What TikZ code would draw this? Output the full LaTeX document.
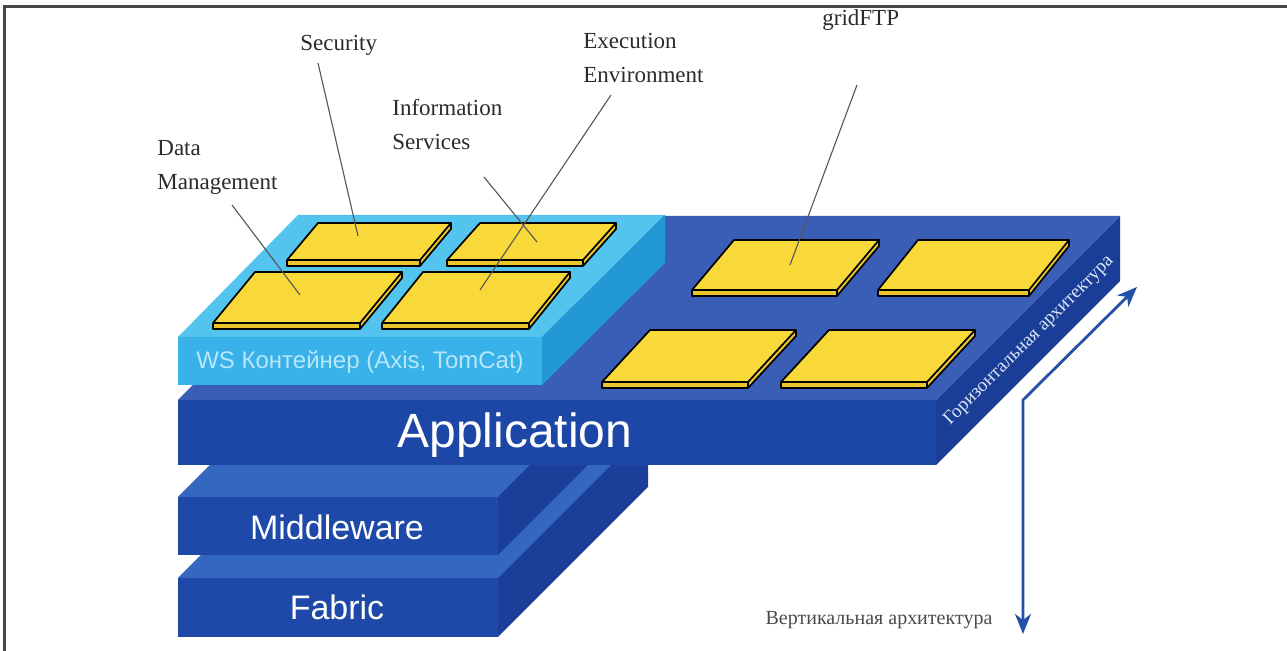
\documentclass[tikz,border=0pt]{standalone}
\usepackage{fontspec}
\setmainfont{Liberation Serif}
\newfontfamily\sansfont{Liberation Sans}
\usetikzlibrary{arrows.meta}

\definecolor{apptop}{HTML}{3A5DB6}
\definecolor{appfront}{HTML}{1D47A6}
\definecolor{appside}{HTML}{1A3E97}
\definecolor{lowtop}{HTML}{3467C0}
\definecolor{lowfront}{HTML}{1E49A8}
\definecolor{lowside}{HTML}{1B3F98}
\definecolor{wstop}{HTML}{52C4EE}
\definecolor{wsfront}{HTML}{38B2E8}
\definecolor{wsside}{HTML}{2299D6}
\definecolor{wstext}{HTML}{B8E6FA}
\definecolor{tiletop}{HTML}{F9D83A}
\definecolor{tileedge}{HTML}{EBC52C}
\definecolor{leader}{HTML}{555555}
\definecolor{labeltext}{HTML}{2B2B2B}
\definecolor{arrowblue}{HTML}{2350A8}
\definecolor{framegray}{HTML}{474747}
\definecolor{sidetext}{HTML}{DCE6F6}

% a flat yellow module: front-left corner, width, depth dx, depth dy
\newcommand\gtile[4]{%
  \fill[tileedge] (#1) -- ++(#2,0) -- ++(#3,-#4) -- ++(0,6) -- ++(-#3,#4) -- ++(-#2,0) -- cycle;
  \fill[tiletop] (#1) -- ++(#2,0) -- ++(#3,-#4) -- ++(-#2,0) -- cycle;
  \draw[tileline] (#1) -- ++(#2,0) -- ++(#3,-#4) -- ++(-#2,0) -- cycle;
  \draw[tileline] (#1) -- ++(0,6) -- ++(#2,0) -- ++(#3,-#4) -- ++(0,-6);
  \draw[tileline] (#1) ++(#2,0) -- ++(0,6);
}

\tikzset{
  tileline/.style={draw=black, line width=0.85pt, line join=round},
  leaderline/.style={draw=leader, line width=0.55pt},
  label/.style={text=labeltext, align=left, anchor=west, inner sep=0pt,
    font=\fontsize{11.5}{17}\selectfont},
  layername/.style={text=white, inner sep=0pt, font=\sansfont\fontsize{17}{20}\selectfont},
  archarrow/.style={draw=arrowblue, line width=1.4pt, line join=miter,
    {Stealth[length=10pt,width=8pt,inset=3pt]}-{Stealth[length=10pt,width=8pt,inset=3pt]}},
}

\begin{document}
\begin{tikzpicture}[x=0.5pt,y=-0.5pt]
\useasboundingbox (0,0) rectangle (1287,651);
\fill[white] (0,0) rectangle (1287,651);

% frame
\draw[framegray, line width=1.2pt] (4.5,651) -- (4.5,6.5) -- (1287,6.5);

% Fabric slab
\fill[lowtop]   (178,578) -- (498,578) -- (648,428) -- (328,428) -- cycle;
\fill[lowside]  (498,578) -- (648,428) -- (648,487) -- (498,637) -- cycle;
\fill[lowfront] (178,578) rectangle (498,637);

% Middleware slab
\fill[lowtop]   (178,497) -- (498,497) -- (648,347) -- (328,347) -- cycle;
\fill[lowside]  (498,497) -- (648,347) -- (648,405) -- (498,555) -- cycle;
\fill[lowfront] (178,497) rectangle (498,555);

% Application slab
\fill[apptop]   (178,400) -- (936,400) -- (1120,216) -- (362,216) -- cycle;
\fill[appside]  (936,400) -- (1120,216) -- (1120,281) -- (936,465) -- cycle;
\fill[appfront] (178,400) rectangle (936,465);

% WS container
\fill[wstop]   (178,337) -- (542,337) -- (665,215) -- (298,215) -- cycle;
\fill[wsside]  (542,337) -- (665,215) -- (665,263) -- (542,385) -- cycle;
\fill[wsfront] (178,337) rectangle (542,385);

% layer names
\node[layername, font=\sansfont\fontsize{24}{28}\selectfont] (app) at (515,435) {Application};
\node[layername] (mid) at (337,527) {Middleware};
\node[layername] (fab) at (337,607) {Fabric};
\node[text=wstext, inner sep=0pt, font=\sansfont\fontsize{12}{14}\selectfont] (ws) at (360,362) {WS Контейнер (Axis, TomCat)};

% modules in the container
\gtile{287,260}{133}{31}{37}
\gtile{447,260}{136}{33}{37}
\gtile{213,323}{147}{42}{51}
\gtile{382,323}{147}{41}{51}
% modules on the application layer
\gtile{692,290}{145}{42}{50}
\gtile{878,290}{151}{40}{50}
\gtile{602,382}{146}{48}{52}
\gtile{781,382}{146}{48}{52}

% side label
\node[text=sidetext, inner sep=0pt, rotate=45, font=\fontsize{9.5}{11}\selectfont] (horiz) at (1029,341) {Горизонтальная архитектура};

% architecture arrows
\coordinate (htip) at (1137,287);
\coordinate (bend) at (1023,400);
\coordinate (vtip) at (1023,634);
\draw[archarrow] (htip) -- (bend) -- (vtip);
\node[text=labeltext!85, inner sep=0pt, font=\fontsize{10}{12}\selectfont] (vert) at (879,620) {Вертикальная архитектура};

% labels
\node[label] (lsec)  at (300,45)  {Security};
\node[label] (lexec) at (583,58)  {Execution\\Environment};
\node[label] (linfo) at (392,125) {Information\\Services};
\node[label] (ldata) at (157,167) {Data\\Management};
\node[label] (lgrid) at (822,20)  {gridFTP};

% leader lines
\coordinate (secA)  at (318,63);   \coordinate (secB)  at (358,236);
\coordinate (dataA) at (232,205);  \coordinate (dataB) at (300,295);
\coordinate (infoA) at (484,177);  \coordinate (infoB) at (537,242);
\coordinate (execA) at (611,95);   \coordinate (execB) at (480,290);
\coordinate (gridA) at (857,85);   \coordinate (gridB) at (790,265);
\draw[leaderline] (secA) -- (secB);
\draw[leaderline] (dataA) -- (dataB);
\draw[leaderline] (infoA) -- (infoB);
\draw[leaderline] (execA) -- (execB);
\draw[leaderline] (gridA) -- (gridB);
\end{tikzpicture}
\end{document}
